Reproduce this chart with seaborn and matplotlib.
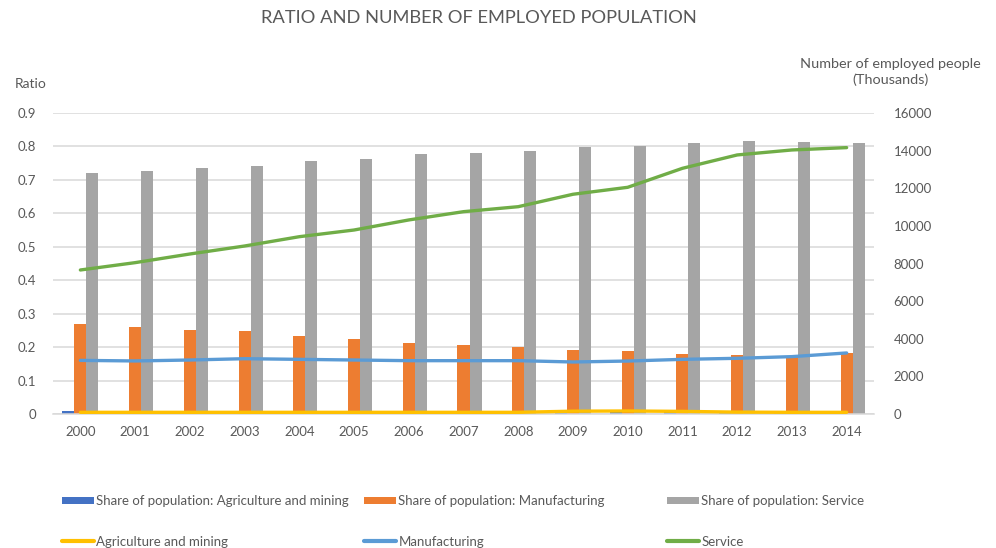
import numpy as np
import pandas as pd
import matplotlib
matplotlib.use("Agg")
import matplotlib.pyplot as plt
import seaborn as sns
from matplotlib.patches import Patch
from matplotlib.lines import Line2D

sns.set_theme(style="white")
plt.rcParams["font.family"] = ["Lato", "DejaVu Sans"]

years = [str(y) for y in range(2000, 2015)]

# Share of employed population by sector (left axis)
share_agri = [0.008] * 15
share_manuf = [0.268, 0.259, 0.252, 0.247, 0.234, 0.224, 0.213, 0.206,
               0.200, 0.191, 0.188, 0.179, 0.175, 0.171, 0.182]
share_service = [0.720, 0.728, 0.737, 0.742, 0.756, 0.762, 0.776, 0.781,
                 0.787, 0.798, 0.800, 0.809, 0.815, 0.813, 0.809]

# Number of employed people, thousands (right axis)
num_agri = [90, 90, 90, 90, 90, 90, 90, 90, 90, 150, 160, 140, 100, 90, 90]
num_manuf = [2850, 2820, 2870, 2940, 2905, 2870, 2835, 2835,
             2835, 2765, 2815, 2905, 2960, 3050, 3245]
num_service = [7655, 8045, 8505, 8930, 9425, 9780, 10315, 10755,
               11020, 11680, 12050, 13060, 13770, 14035, 14160]

bar_labels = ["Share of population: Agriculture and mining",
              "Share of population: Manufacturing",
              "Share of population: Service"]
line_labels = ["Agriculture and mining", "Manufacturing", "Service"]
ratio_ticks = [0, 0.1, 0.2, 0.3, 0.4, 0.5, 0.6, 0.7, 0.8, 0.9]
number_ticks = [0, 2000, 4000, 6000, 8000, 10000, 12000, 14000, 16000]

bar_colors = ["#4472C4", "#ED7D31", "#A5A5A5"]
line_colors = ["#FFC000", "#5B9BD5", "#70AD47"]
text_color = "#595959"
grid_color = "#D9D9D9"

df = pd.DataFrame({
    "Year": years * 3,
    "Share": share_agri + share_manuf + share_service,
    "Series": [bar_labels[0]] * 15 + [bar_labels[1]] * 15 + [bar_labels[2]] * 15,
})

fig = plt.figure(figsize=(9.96, 5.48), dpi=100)
ax = fig.add_axes([53 / 996, 1 - 414 / 548, (874 - 53) / 996, (414 - 113) / 548])

sns.barplot(data=df, x="Year", y="Share", hue="Series", hue_order=bar_labels,
            palette=bar_colors, width=0.66, saturation=1, edgecolor="none",
            legend=False, ax=ax, zorder=2)

ax.set_xlim(-0.5, len(years) - 0.5)
ax.set_ylim(0, 0.9)
ax.set_yticks(ratio_ticks, labels=[f"{t:g}" for t in ratio_ticks])
ax.yaxis.grid(True, color=grid_color, linewidth=1.1, zorder=0)
ax.set_axisbelow(True)
ax.set_xlabel("")
ax.set_ylabel("")
for side in ["top", "right", "left"]:
    ax.spines[side].set_visible(False)
ax.spines["bottom"].set_color(grid_color)
ax.spines["bottom"].set_linewidth(1.1)
ax.tick_params(axis="both", length=0, labelsize=9.5, labelcolor=text_color)
ax.tick_params(axis="x", pad=9)
ax.tick_params(axis="y", pad=12)

ax2 = ax.twinx()
pos = np.arange(len(years))
for vals, color in zip([num_agri, num_manuf, num_service], line_colors):
    sns.lineplot(x=pos, y=vals, ax=ax2, color=color, linewidth=2.4,
                 solid_capstyle="round", solid_joinstyle="round")
ax2.set_ylim(0, 16000)
ax2.set_yticks(number_ticks, labels=[str(t) for t in number_ticks])
ax2.set_xlim(-0.5, len(years) - 0.5)
for side in ["top", "right", "left", "bottom"]:
    ax2.spines[side].set_visible(False)
ax2.tick_params(axis="y", length=0, labelsize=9.5, labelcolor=text_color, pad=14)
ax2.set_ylabel("")

fig.text(478.5 / 996, 1 - 18 / 548, "RATIO AND NUMBER OF EMPLOYED POPULATION",
         ha="center", va="center", fontsize=13.2, color=text_color)
fig.text(15 / 996, 1 - 84 / 548, "Ratio", ha="left", va="center",
         fontsize=10, color=text_color)
fig.text(890 / 996, 1 - 72 / 548, "Number of employed people\n(Thousands)",
         ha="center", va="center", fontsize=10.4, color=text_color,
         linespacing=1.4)

# Legend: one column per sector, bar share on top and employed number below
col_x = [62, 364, 667]
for i in range(3):
    handles = [Patch(facecolor=bar_colors[i], edgecolor="none"),
               Line2D([0], [0], color=line_colors[i], linewidth=3)]
    fig.legend(handles, [bar_labels[i], line_labels[i]],
               loc="upper left",
               bbox_to_anchor=(col_x[i] / 996, 1 - 495 / 548),
               frameon=False, fontsize=9.5, handlelength=2.4,
               handleheight=0.5, handletextpad=0.2, labelspacing=2.17,
               borderaxespad=0, borderpad=0, labelcolor=text_color)

fig.savefig("out.png", dpi=100, facecolor="white")
